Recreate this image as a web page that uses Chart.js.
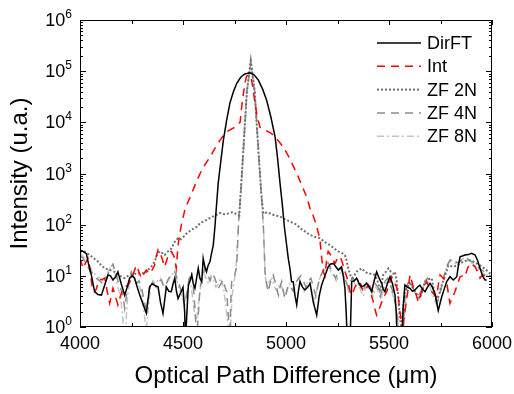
<!DOCTYPE html>
<html>
<head>
  <title>Intensity vs Optical Path Difference</title>
  <script src="https://cdn.jsdelivr.net/npm/chart.js"></script>
  <style>
    body { margin: 0; background: #fff; }
    canvas { display: block; }
  </style>
</head>
<body>
  <canvas id="opdChart" width="514" height="394"></canvas>

  <script>
    // --- Values: [optical path difference (um), intensity] ---
    const seriesNames = ['DirFT', 'Int', 'ZF 2N', 'ZF 4N', 'ZF 8N'];
    const xTicks = [4000, 4500, 5000, 5500, 6000];
    const yExponents = [0, 1, 2, 3, 4, 5, 6];

    const dirFT = [[4000,32],[4015,30],[4031,27],[4043,16],[4055,10.4],[4071,4.9],[4087,4.3],[4104,4.2],[4120,6.6],[4136,10.4],[4148,10],[4160,8.3],[4172,9.5],[4184,12],[4200,7],[4217,4.2],[4229,6],[4241,9],[4253,10],[4265,9],[4278,6],[4290,4.2],[4306,2.8],[4322,1.85],[4338,6.1],[4350,7],[4362,6.5],[4379,6.1],[4391,3],[4403,1.85],[4419,6.1],[4431,5],[4443,4.9],[4452,7],[4460,9],[4468,5],[4476,3.6],[4492,5],[4500,6],[4508,2],[4512,0.5],[4516,1.1],[4526,6.6],[4534,8],[4542,10.4],[4550,7],[4558,5.7],[4566,9],[4574,14],[4582,9],[4591,7.7],[4598,22],[4606,15],[4614,12],[4622,16],[4631,19],[4639,28],[4647,40],[4655,91],[4663,250],[4671,650],[4684,1800],[4696,4500],[4712,11000],[4728,24000],[4745,40000],[4761,58000],[4780,76000],[4800,88000],[4825,93000],[4845,85000],[4866,67000],[4886,45000],[4906,27000],[4926,13000],[4947,5200],[4959,2000],[4971,650],[4982,250],[4992,91],[5003,40],[5011,22],[5019,14],[5027,7.7],[5035,7.7],[5044,4],[5052,2.7],[5060,5],[5068,7.7],[5080,6],[5092,5.3],[5105,6],[5117,7.1],[5133,3],[5149,1.7],[5161,4],[5173,6.6],[5189,10],[5205,15],[5217,17],[5230,17.5],[5242,15],[5254,13],[5262,14],[5270,15],[5278,10],[5286,5.7],[5292,2],[5298,0.5],[5308,0.5],[5313,1],[5319,7.7],[5331,8],[5343,9],[5355,7],[5367,6.1],[5380,6.5],[5392,7.1],[5404,6],[5416,4.9],[5428,8],[5440,12],[5452,9],[5465,7.1],[5472,5.5],[5480,4.9],[5492,7],[5505,9.6],[5517,7],[5529,4.2],[5535,2],[5540,0.5],[5553,0.5],[5561,0.5],[5569,2.5],[5577,6.6],[5590,6],[5602,5.7],[5614,5],[5626,5.3],[5638,6],[5650,6.6],[5662,5.5],[5675,4.9],[5687,6],[5699,7.1],[5711,6],[5723,4.5],[5739,2.1],[5756,3.9],[5768,5.5],[5780,7.7],[5796,9.6],[5812,8.3],[5829,9.6],[5837,16],[5845,23.6],[5869,25.5],[5885,26],[5901,27.5],[5918,25.5],[5930,20],[5942,14],[5954,10],[5966,8.3],[5974,8.3]];

    const intp = [[4000,22],[4015,14],[4027,18],[4039,22],[4047,15],[4055,8],[4063,5],[4071,4.9],[4079,5.5],[4087,7],[4095,8.3],[4107,8.5],[4120,9],[4132,5],[4144,2.9],[4152,4],[4160,5.7],[4172,4],[4184,2.7],[4196,4],[4209,5.7],[4221,6.2],[4233,6.6],[4245,8],[4257,10.4],[4265,13],[4274,16],[4286,12],[4298,9],[4310,11],[4322,13],[4330,12],[4338,11],[4350,13],[4362,16],[4370,24],[4379,32],[4387,28],[4395,24],[4403,19],[4411,15],[4419,19],[4427,24],[4435,28],[4443,30],[4452,26],[4460,22],[4467,14],[4472,25],[4476,40],[4484,65],[4494,110],[4510,200],[4526,290],[4542,400],[4562,650],[4583,1000],[4607,1500],[4631,2100],[4655,3100],[4680,4500],[4696,5500],[4712,6500],[4732,7300],[4752,8000],[4770,9500],[4777,10000],[4785,20000],[4793,36000],[4801,60000],[4809,80000],[4820,85000],[4832,70000],[4840,45000],[4850,23000],[4860,13000],[4874,8000],[4900,7000],[4930,6000],[4958,4600],[4987,3300],[5020,1900],[5052,1000],[5080,550],[5100,350],[5118,200],[5132,150],[5150,90],[5165,50],[5173,23],[5181,12],[5189,10],[5197,20],[5205,30],[5213,27],[5222,24],[5230,20],[5238,17.5],[5250,22],[5262,24],[5270,20],[5278,16],[5290,11],[5302,7.7],[5310,5],[5319,4.2],[5327,5],[5335,6.1],[5347,7],[5359,7.7],[5367,6],[5375,4.9],[5388,5.5],[5400,6.6],[5412,4.5],[5424,3.1],[5432,2.2],[5440,1.7],[5452,2.2],[5465,3.1],[5477,4],[5489,4.9],[5501,7],[5513,9.6],[5525,7.5],[5537,6.1],[5545,4],[5553,2],[5561,1.2],[5569,1.1],[5577,2],[5586,3.6],[5594,6],[5602,10.4],[5610,8],[5618,6.1],[5630,4.5],[5642,3.1],[5650,3.8],[5658,4.9],[5670,6],[5683,7.7],[5695,6],[5707,4.9],[5719,4.3],[5731,3.9],[5740,7],[5748,10.4],[5764,9],[5780,7.7],[5788,4.5],[5796,2.9],[5808,3.8],[5820,4.9],[5833,7],[5845,9.6],[5857,10],[5869,9.6],[5881,14],[5893,17.5],[5905,16.5],[5918,15],[5930,12],[5942,9],[5950,10],[5958,10.4],[5974,9]];

    const zf2N = [[4000,30],[4020,30],[4047,25.5],[4067,22],[4087,19],[4104,16],[4120,14],[4144,13],[4168,12],[4192,10],[4217,9],[4233,10],[4249,10.4],[4265,11],[4282,11],[4298,11.5],[4314,11],[4330,13],[4346,15],[4362,19],[4375,26],[4387,30],[4399,28],[4411,25.5],[4427,30],[4443,34],[4452,40],[4460,46],[4476,55],[4490,52],[4506,60],[4518,68],[4542,80],[4566,90],[4583,107],[4607,120],[4631,135],[4655,150],[4680,170],[4700,160],[4720,165],[4740,175],[4761,160],[4773,150],[4780,400],[4793,2900],[4810,40000],[4829,160000],[4848,40000],[4866,2900],[4880,400],[4890,165],[4910,175],[4930,160],[4950,150],[4971,145],[4990,130],[5010,120],[5030,110],[5052,100],[5068,85],[5090,75],[5117,63],[5140,58],[5165,54],[5190,45],[5213,40],[5235,34],[5254,30],[5270,28],[5286,25.5],[5294,20],[5302,14],[5310,11],[5319,9],[5331,10],[5343,12],[5355,13],[5367,14],[5384,12],[5400,11],[5416,11],[5432,10.4],[5444,8],[5456,5.3],[5464,7],[5472,10.4],[5485,12],[5497,14],[5509,12],[5521,11],[5529,12],[5537,8],[5545,4],[5553,1.5],[5561,1],[5569,2.5],[5577,4.9],[5590,6],[5602,7.1],[5614,6],[5626,4.9],[5638,4.2],[5650,3.6],[5662,5],[5675,7.7],[5690,8.5],[5707,9],[5719,5],[5731,3.1],[5744,4.5],[5756,6.6],[5772,10],[5788,16],[5800,15.5],[5812,15],[5829,16],[5845,17.5],[5861,19],[5877,20],[5893,20],[5910,19],[5926,17.5],[5942,16],[5962,14],[5982,12],[5998,10.4]];

    const zf4N = [[4000,25],[4015,22],[4031,17],[4047,13],[4063,11],[4079,9],[4095,8],[4111,7],[4128,9],[4144,13],[4160,17],[4172,12],[4184,8],[4196,6],[4209,4],[4217,2.3],[4225,4],[4237,8],[4249,12],[4261,9],[4274,7],[4286,8],[4298,6],[4310,3.5],[4322,2],[4334,5],[4346,8],[4358,7],[4370,6],[4383,8],[4395,8.3],[4407,6],[4419,7],[4431,9],[4443,10],[4460,12],[4476,8],[4492,4.9],[4508,2.7],[4520,5],[4530,9],[4542,12],[4552,5],[4560,1.7],[4566,0.5],[4574,1.7],[4583,6],[4595,10],[4607,14],[4619,11],[4631,8],[4643,11],[4655,9],[4663,7],[4671,5.7],[4684,7],[4696,8.3],[4704,6],[4712,4.9],[4720,1.7],[4726,0.5],[4732,3],[4736,7.7],[4748,9],[4761,16],[4769,98],[4780,400],[4793,2900],[4810,40000],[4829,150000],[4848,40000],[4866,2900],[4880,400],[4890,98],[4898,12],[4906,7],[4914,4.9],[4926,8],[4938,10.4],[4950,7],[4963,4.2],[4971,6],[4979,7.7],[4987,5],[4995,3.6],[5003,5],[5011,6.6],[5023,6],[5035,5],[5047,7],[5060,9],[5072,10],[5084,8],[5097,6],[5109,8],[5121,9],[5133,6],[5145,4],[5157,7],[5169,10],[5181,13],[5193,16],[5205,18],[5217,14],[5229,11],[5241,9],[5253,12],[5265,14],[5277,11],[5290,8],[5302,6],[5314,8],[5326,9],[5338,7],[5350,8],[5362,6],[5374,5],[5386,7],[5398,8],[5410,6],[5422,5],[5434,7],[5446,6],[5458,4],[5470,6],[5482,8],[5494,9],[5506,7],[5518,5],[5530,3],[5542,1.5],[5552,0.6],[5562,0.5],[5570,1.2],[5578,4],[5590,7],[5602,8],[5614,6],[5626,5],[5638,4],[5650,4.5],[5662,6],[5675,8],[5687,9],[5699,8],[5711,6],[5723,4],[5735,3],[5747,4.5],[5759,7],[5771,11],[5783,16],[5795,20],[5807,22],[5819,20],[5831,18],[5843,19],[5855,21],[5867,23],[5879,22],[5891,20],[5903,19],[5915,18],[5927,16],[5939,14],[5951,13],[5963,12],[5975,11],[5990,10],[6000,10]];

    const zf8N = [[4000,28],[4015,24],[4031,20],[4047,15],[4063,12],[4079,10],[4095,9],[4111,8],[4128,10],[4144,14],[4160,15],[4172,10],[4184,6],[4196,4],[4205,2],[4213,0.8],[4221,0.8],[4229,3],[4241,9],[4253,11],[4265,9],[4278,7],[4290,6],[4302,4],[4314,1.5],[4322,0.9],[4330,2],[4342,6],[4354,8],[4366,7],[4378,8],[4390,9],[4402,7],[4414,6],[4426,8],[4438,10],[4450,11],[4462,10],[4474,7],[4486,5],[4498,4],[4510,3],[4522,5],[4534,8],[4546,4],[4556,1.8],[4566,1.4],[4576,3],[4588,7],[4600,11],[4612,9],[4624,7],[4636,10],[4648,8],[4660,6],[4672,7],[4684,9],[4696,6],[4706,3],[4714,1.5],[4722,0.8],[4730,0.8],[4738,4],[4748,8],[4756,12],[4766,60],[4778,350],[4792,2600],[4810,38000],[4829,150000],[4848,38000],[4866,2600],[4882,350],[4892,60],[4900,9],[4910,6],[4920,8],[4932,9],[4944,6],[4956,5],[4968,7],[4980,6],[4992,4],[5004,5],[5016,7],[5028,6],[5040,5],[5052,8],[5064,9],[5076,7],[5088,5],[5100,7],[5112,8],[5124,5],[5136,3],[5148,5],[5160,8],[5172,11],[5184,12],[5196,14],[5208,15],[5220,12],[5232,10],[5244,8],[5256,10],[5268,12],[5280,10],[5292,7],[5304,5],[5316,7],[5328,8],[5340,6],[5352,7],[5364,5],[5376,4],[5388,6],[5400,7],[5412,5],[5424,4],[5436,6],[5448,5],[5460,3.5],[5472,5],[5484,7],[5496,8],[5508,6],[5520,4],[5532,2.5],[5544,1.2],[5556,0.6],[5566,0.6],[5576,1.5],[5586,4],[5598,6],[5610,7],[5622,5],[5634,4],[5646,3.5],[5658,5],[5670,7],[5682,8],[5694,7],[5706,5],[5718,3.5],[5730,2.8],[5742,4],[5754,6],[5766,10],[5778,14],[5790,18],[5802,20],[5814,19],[5826,17],[5838,18],[5850,20],[5862,22],[5874,21],[5886,19],[5898,18],[5910,17],[5922,15],[5934,13],[5946,12],[5958,11],[5970,10.5],[5985,10],[6000,10]];

    // --- Line styles, in legend order ---
    const allSeries = [dirFT, intp, zf2N, zf4N, zf8N];
    const colors = ['#000000', '#ff0000', '#707070', '#8c8c8c', '#c4c4c4'];
    const dashes = [[], [8, 6], [2, 2], [8, 6], [7, 3, 2, 3]];
    const widths = [1.5, 1.5, 2, 1.5, 1.5];
    const drawOrder = [1, 2, 3, 4, 5]; // lower = drawn on top

    const FONT = "'Liberation Sans', Arial, sans-serif";
    Chart.defaults.font.family = FONT;
    Chart.defaults.color = '#000';

    const datasets = allSeries.map((s, i) => ({
      label: seriesNames[i],
      data: s.map(([x, y]) => ({ x, y })),
      borderColor: colors[i],
      borderDash: dashes[i],
      borderWidth: widths[i],
      pointRadius: 0,
      fill: false,
      tension: 0,
      order: drawOrder[i]
    }));

    // --- Box, inward ticks, 10^n labels and legend ---
    const frame = {
      id: 'frame',
      afterDraw(chart) {
        const { ctx, chartArea: a, scales: { x, y } } = chart;
        const seg = (x1, y1, x2, y2) => { ctx.beginPath(); ctx.moveTo(x1, y1); ctx.lineTo(x2, y2); ctx.stroke(); };
        ctx.save();
        ctx.strokeStyle = '#000';
        ctx.lineWidth = 1;
        ctx.setLineDash([]);
        ctx.strokeRect(a.left + 0.5, a.top + 0.5, a.right - a.left - 1, a.bottom - a.top - 1);

        for (let v = xTicks[0]; v <= xTicks[xTicks.length - 1]; v += 250) {
          const px = Math.round(x.getPixelForValue(v)) + 0.5;
          const len = v % 500 === 0 ? 5 : 4;
          seg(px, a.bottom, px, a.bottom - len);
          seg(px, a.top, px, a.top + len);
        }

        yExponents.forEach(e => {
          const py = Math.round(y.getPixelForValue(Math.pow(10, e))) + 0.5;
          seg(a.left, py, a.left + 6, py);
          seg(a.right, py, a.right - 6, py);
          if (e < yExponents[yExponents.length - 1]) {
            for (let m = 2; m <= 9; m++) {
              const pm = Math.round(y.getPixelForValue(m * Math.pow(10, e))) + 0.5;
              seg(a.left, pm, a.left + 3, pm);
              seg(a.right, pm, a.right - 3, pm);
            }
          }
          ctx.fillStyle = '#000';
          ctx.textBaseline = 'middle';
          ctx.textAlign = 'right';
          ctx.font = '12px ' + FONT;
          const ew = ctx.measureText(String(e)).width;
          const right = a.left - 8;
          ctx.fillText(String(e), right, py - 6);
          ctx.font = '18px ' + FONT;
          ctx.fillText('10', right - ew, py + 1);
        });

        // legend
        ctx.font = '18px ' + FONT;
        ctx.textAlign = 'left';
        ctx.textBaseline = 'middle';
        seriesNames.forEach((name, i) => {
          const ly = 43 + i * 23.3;
          ctx.strokeStyle = colors[i];
          ctx.lineWidth = widths[i];
          ctx.setLineDash(dashes[i]);
          seg(377, ly, 421, ly);
          ctx.setLineDash([]);
          ctx.fillStyle = '#000';
          ctx.fillText(name, 427, ly + 1);
        });
        ctx.restore();
      }
    };

    new Chart(document.getElementById('opdChart').getContext('2d'), {
      type: 'line',
      data: { datasets },
      options: {
        responsive: false,
        animation: false,
        layout: { padding: { top: 20, right: 22, left: 0, bottom: 0 } },
        plugins: { legend: { display: false }, tooltip: { enabled: false } },
        scales: {
          x: {
            type: 'linear', min: 4000, max: 6000,
            afterBuildTicks: s => { s.ticks = xTicks.map(v => ({ value: v })); },
            ticks: { font: { size: 18 }, color: '#000', padding: 6, maxRotation: 0, callback: v => String(v) },
            grid: { display: false, drawTicks: false },
            border: { display: false },
            title: { display: true, text: 'Optical Path Difference (\u03bcm)', font: { size: 24 }, color: '#000', padding: { top: 0, bottom: 3 } },
            afterFit: s => { s.height = 67; s.paddingLeft = 0; s.paddingRight = 0; }
          },
          y: {
            type: 'logarithmic', min: 1, max: 1e6,
            ticks: { display: false },
            grid: { display: false, drawTicks: false },
            border: { display: false },
            title: { display: true, text: 'Intensity (u.a.)', font: { size: 24 }, color: '#000', padding: { top: 6, bottom: 0 } },
            afterFit: s => { s.width = 80; }
          }
        }
      },
      plugins: [frame]
    });
  </script>
</body>
</html>
